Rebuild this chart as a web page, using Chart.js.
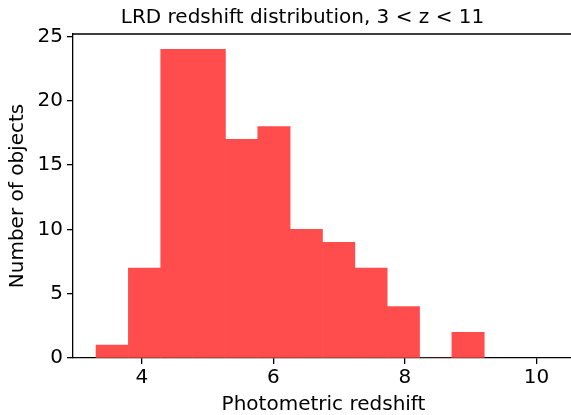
<!DOCTYPE html>
<html lang="en">
<head>
    <meta charset="UTF-8">
    <title>LRD redshift distribution</title>
    <style>
        html, body { margin: 0; padding: 0; background: #fff; overflow: hidden; }
        .chart-container { width: 574px; height: 415px; }
    </style>
    <script src="https://cdn.jsdelivr.net/npm/chart.js"></script>
</head>
<body>
    <div class="chart-container"><canvas id="histChart"></canvas></div>

    <script>
        // Histogram bins (photometric redshift) and counts
        const binEdges = [3.305, 3.797, 4.288, 4.780, 5.272, 5.763, 6.255, 6.747, 7.238, 7.730, 8.222, 8.713, 9.205];
        const counts = [1, 7, 24, 24, 17, 18, 10, 9, 7, 4, 0, 2];
        const xTicks = [4, 6, 8, 10];
        const yTicks = [0, 5, 10, 15, 20, 25];

        // one bar per bin, placed at the bin centre
        const histData = counts.map((c, i) => ({ x: (binEdges[i] + binEdges[i + 1]) / 2, y: c }));

        Chart.defaults.font.family = "'DejaVu Sans', sans-serif";
        Chart.defaults.font.size = 20;
        Chart.defaults.color = '#000';

        // matplotlib-style top spine
        const topSpine = {
            id: 'topSpine',
            afterDraw(chart) {
                const { ctx, chartArea } = chart;
                ctx.save();
                ctx.strokeStyle = '#000';
                ctx.lineWidth = 1.3;
                ctx.beginPath();
                ctx.moveTo(chartArea.left - 0.65, chartArea.top);
                ctx.lineTo(chartArea.right, chartArea.top);
                ctx.stroke();
                ctx.restore();
            }
        };

        // title in the reference sits right of the canvas centre
        const titleShift = {
            id: 'titleShift',
            afterLayout(chart) {
                if (chart.titleBlock) chart.titleBlock.left += 31;
            }
        };

        const tickGrid = { drawOnChartArea: false, drawTicks: true, tickLength: 6, color: '#000', lineWidth: 1.3 };
        const spine = { display: true, color: '#000', width: 1.3 };

        new Chart(document.getElementById('histChart'), {
            type: 'bar',
            data: {
                datasets: [{
                    data: histData,
                    backgroundColor: 'rgb(255, 77, 77)',
                    borderWidth: 0,
                    barPercentage: 1,
                    categoryPercentage: 1,
                    grouped: false
                }]
            },
            options: {
                responsive: true,
                maintainAspectRatio: false,
                animation: false,
                devicePixelRatio: 1,
                layout: { padding: 0 },
                plugins: {
                    legend: { display: false },
                    tooltip: { enabled: false },
                    title: {
                        display: true,
                        text: 'LRD redshift distribution, 3 < z < 11',
                        font: { size: 20, weight: 'normal', lineHeight: 1 },
                        padding: { top: 8, bottom: 6 }
                    }
                },
                scales: {
                    x: {
                        type: 'linear',
                        offset: false,
                        min: 2.955,
                        max: 10.569,
                        grid: { ...tickGrid, offset: false },
                        border: spine,
                        afterBuildTicks: s => { s.ticks = xTicks.map(v => ({ value: v })); },
                        ticks: { padding: 2, font: { size: 20 } },
                        title: {
                            display: true,
                            text: 'Photometric redshift',
                            font: { size: 20, lineHeight: 1 },
                            padding: { top: 0, bottom: 0 }
                        },
                        afterFit: s => { s.height = 57; }
                    },
                    y: {
                        min: 0,
                        max: 25.2,
                        grid: tickGrid,
                        border: spine,
                        afterBuildTicks: s => { s.ticks = yTicks.map(v => ({ value: v })); },
                        ticks: { padding: 4, font: { size: 20 } },
                        title: {
                            display: true,
                            text: 'Number of objects',
                            font: { size: 20, lineHeight: 1 },
                            padding: { top: 8, bottom: 0 }
                        },
                        afterFit: s => { s.width = 73; }
                    }
                }
            },
            plugins: [topSpine, titleShift]
        });
    </script>
</body>
</html>
